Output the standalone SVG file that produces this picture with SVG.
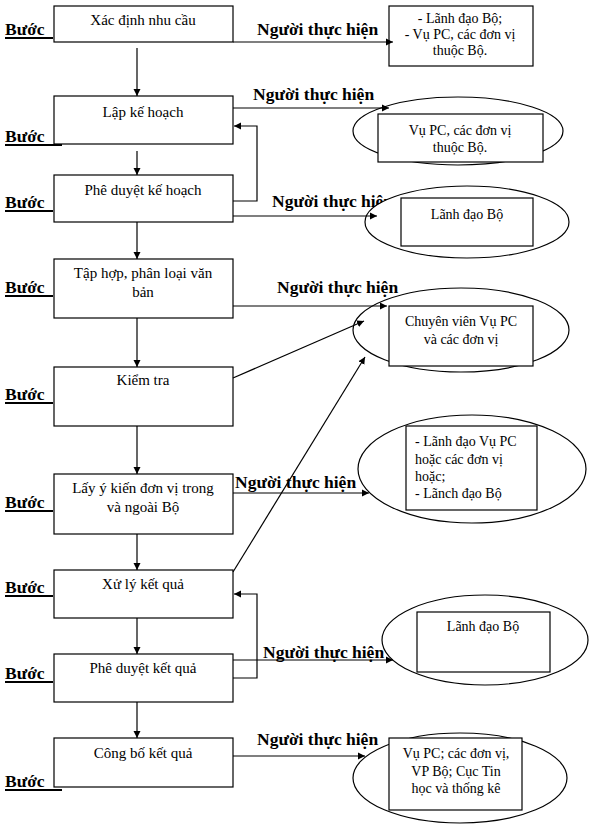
<svg xmlns="http://www.w3.org/2000/svg" width="593" height="832" viewBox="0 0 593 832">
<style>
text{font-family:"Liberation Serif","Times New Roman",serif;fill:#000}
.bt{font-size:15px;text-anchor:middle}
.rt{font-size:14px;text-anchor:middle}
.rl{font-size:14px}
.lab{font-size:17.5px;font-weight:bold}
.step{font-size:17.5px;font-weight:bold}
.box{fill:#fff;stroke:#000;stroke-width:1.2}
.ell{fill:#fff;stroke:#000;stroke-width:1.2}
.ln{fill:none;stroke:#000;stroke-width:1.2}
.ul{stroke:#000;stroke-width:2}
</style>
<defs>
<marker id="ah" markerWidth="8" markerHeight="8" refX="7" refY="4" orient="auto" markerUnits="userSpaceOnUse">
<path d="M0,0.5 L7,4 L0,7.5 Z" fill="#000"/>
</marker>
</defs>
<rect width="593" height="832" fill="#fff"/>

<g id="step-labels">
<text class="step" x="5" y="35">Bước</text><line class="ul" x1="5" y1="38" x2="53" y2="38"/>
<text class="step" x="5" y="142">Bước</text><line class="ul" x1="5" y1="145" x2="62" y2="145"/>
<text class="step" x="5" y="208">Bước</text><line class="ul" x1="5" y1="211" x2="53" y2="211"/>
<text class="step" x="5" y="293">Bước</text><line class="ul" x1="5" y1="296" x2="53" y2="296"/>
<text class="step" x="5" y="400">Bước</text><line class="ul" x1="5" y1="403" x2="53" y2="403"/>
<text class="step" x="5" y="508">Bước</text><line class="ul" x1="5" y1="511" x2="53" y2="511"/>
<text class="step" x="5" y="593">Bước</text><line class="ul" x1="5" y1="596" x2="53" y2="596"/>
<text class="step" x="5" y="679">Bước</text><line class="ul" x1="5" y1="682" x2="53" y2="682"/>
<text class="step" x="5" y="787">Bước</text><line class="ul" x1="5" y1="790" x2="62" y2="790"/>
</g>

<g id="actor-labels">
<text class="lab" x="257" y="35">Người thực hiện</text>
<text class="lab" x="253" y="100">Người thực hiện</text>
<text class="lab" x="272" y="207">Người thực hiện</text>
<text class="lab" x="277" y="293">Người thực hiện</text>
<text class="lab" x="235" y="488">Người thực hiện</text>
<text class="lab" x="263" y="658">Người thực hiện</text>
<text class="lab" x="257" y="745">Người thực hiện</text>
</g>

<g id="s1"><rect class="box" x="54" y="6" width="179" height="36"/><text class="bt" x="143" y="25">Xác định nhu cầu</text></g>
<g id="s2"><rect class="box" x="54" y="96" width="179" height="48"/><text class="bt" x="143" y="117">Lập kế hoạch</text></g>
<g id="s3"><rect class="box" x="54" y="175" width="179" height="47"/><text class="bt" x="143" y="195">Phê duyệt kế hoạch</text></g>
<g id="s4"><rect class="box" x="54" y="259" width="179" height="59"/><text class="bt" x="143" y="278">Tập hợp, phân loại văn</text><text class="bt" x="143" y="297">bản</text></g>
<g id="s5"><rect class="box" x="54" y="367" width="179" height="59"/><text class="bt" x="143" y="385">Kiểm tra</text></g>
<g id="s6"><rect class="box" x="54" y="474" width="179" height="60"/><text class="bt" x="143" y="493">Lấy ý kiến đơn vị trong</text><text class="bt" x="143" y="512">và ngoài Bộ</text></g>
<g id="s7"><rect class="box" x="54" y="570" width="179" height="48"/><text class="bt" x="143" y="589">Xử lý kết quả</text></g>
<g id="s8"><rect class="box" x="54" y="654" width="179" height="48"/><text class="bt" x="143" y="673">Phê duyệt kết quả</text></g>
<g id="s9"><rect class="box" x="54" y="738" width="179" height="49"/><text class="bt" x="143" y="758">Công bố kết quả</text></g>

<g id="a1"><rect class="box" x="389" y="6" width="144" height="60"/>
<text class="rt" x="460" y="23">- Lãnh đạo Bộ;</text>
<text class="rt" x="460" y="39">- Vụ PC, các đơn vị</text>
<text class="rt" x="460" y="55">thuộc Bộ.</text></g>
<g id="a2"><ellipse class="ell" cx="458" cy="131" rx="105" ry="34"/><rect class="box" x="378" y="114" width="165" height="48"/>
<text class="rt" x="460" y="135">Vụ PC, các đơn vị</text>
<text class="rt" x="460" y="152">thuộc Bộ.</text></g>
<g id="a3"><ellipse class="ell" cx="467" cy="222" rx="102" ry="36"/><rect class="box" x="401" y="198" width="132" height="48"/>
<text class="rt" x="467" y="219">Lãnh đạo Bộ</text></g>
<g id="a4"><ellipse class="ell" cx="461" cy="330" rx="108" ry="42"/><rect class="box" x="389" y="306" width="144" height="60"/>
<text class="rt" x="461" y="326">Chuyên viên Vụ PC</text>
<text class="rt" x="461" y="344">và các đơn vị</text></g>
<g id="a6"><ellipse class="ell" cx="472" cy="469" rx="114" ry="54"/><rect class="box" x="406" y="426" width="131" height="84"/>
<text class="rl" x="415" y="446">- Lãnh đạo Vụ PC</text>
<text class="rl" x="415" y="464">hoặc các đơn vị</text>
<text class="rl" x="415" y="481">hoặc;</text>
<text class="rl" x="415" y="498">- Lãnch đạo Bộ</text></g>
<g id="a8"><ellipse class="ell" cx="485" cy="640" rx="103" ry="45"/><rect class="box" x="417" y="612" width="133" height="60"/>
<text class="rt" x="483" y="631">Lãnh đạo Bộ</text></g>
<g id="a9"><ellipse class="ell" cx="460" cy="778" rx="107" ry="45"/><rect class="box" x="389" y="738" width="133" height="72"/>
<text class="rt" x="456" y="758">Vụ PC; các đơn vị,</text>
<text class="rt" x="456" y="776">VP Bộ; Cục Tin</text>
<text class="rt" x="456" y="793">học và thống kê</text></g>

<g id="connectors">
<line class="ln" x1="137" y1="48" x2="137" y2="96" marker-end="url(#ah)"/>
<line class="ln" x1="137" y1="151" x2="137" y2="175" marker-end="url(#ah)"/>
<line class="ln" x1="137" y1="222" x2="137" y2="259" marker-end="url(#ah)"/>
<line class="ln" x1="137" y1="318" x2="137" y2="367" marker-end="url(#ah)"/>
<line class="ln" x1="137" y1="426" x2="137" y2="474" marker-end="url(#ah)"/>
<line class="ln" x1="137" y1="534" x2="137" y2="570" marker-end="url(#ah)"/>
<line class="ln" x1="137" y1="618" x2="137" y2="654" marker-end="url(#ah)"/>
<line class="ln" x1="137" y1="702" x2="137" y2="738" marker-end="url(#ah)"/>
<polyline class="ln" points="233,201 257,201 257,126 234,126" marker-end="url(#ah)"/>
<polyline class="ln" points="233,678 257,678 257,594 234,594" marker-end="url(#ah)"/>
<line class="ln" x1="233" y1="42" x2="393" y2="42" marker-end="url(#ah)"/>
<line class="ln" x1="233" y1="108" x2="389" y2="108" marker-end="url(#ah)"/>
<line class="ln" x1="233" y1="216" x2="377" y2="216" marker-end="url(#ah)"/>
<line class="ln" x1="233" y1="306" x2="387" y2="306" marker-end="url(#ah)"/>
<line class="ln" x1="233" y1="378" x2="364" y2="321" marker-end="url(#ah)"/>
<line class="ln" x1="233" y1="572" x2="365" y2="357" marker-end="url(#ah)"/>
<line class="ln" x1="233" y1="493" x2="369" y2="493" marker-end="url(#ah)"/>
<line class="ln" x1="233" y1="660" x2="393" y2="660" marker-end="url(#ah)"/>
<line class="ln" x1="233" y1="756" x2="365" y2="756" marker-end="url(#ah)"/>
</g>
</svg>
